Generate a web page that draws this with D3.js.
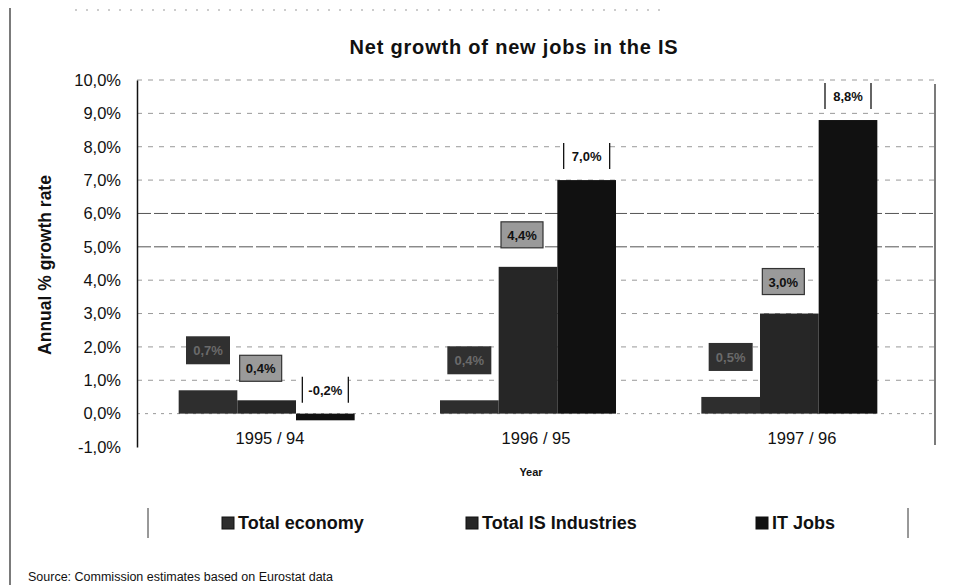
<!DOCTYPE html>
<html>
<head>
<meta charset="utf-8">
<script src="https://cdn.jsdelivr.net/npm/d3@7"></script>
<style>
  html, body { margin: 0; padding: 0; background: #fff; }
  svg { display: block; font-family: "Liberation Sans", Arial, sans-serif; }
</style>
</head>
<body>
<svg id="chart" width="978" height="585"></svg>
<script>
// ---- data ----
const categories = ["1995 / 94", "1996 / 95", "1997 / 96"];
const seriesNames = ["Total economy", "Total IS Industries", "IT Jobs"];
const totalEconomy = [0.7, 0.4, 0.5];
const totalIS = [0.4, 4.4, 3.0];
const itJobs = [-0.2, 7.0, 8.8];
const yTicks = [-1, 0, 1, 2, 3, 4, 5, 6, 7, 8, 9, 10];
const title = "Net growth of new jobs in the IS";
const yTitle = "Annual % growth rate";
const xTitle = "Year";
const source = "Source:  Commission estimates based on Eurostat data";

const seriesValues = [totalEconomy, totalIS, itJobs];
const colors = ["#2e2e2e", "#262626", "#111111"];

const loc = d3.formatLocale({decimal: ",", thousands: ".", grouping: [3], currency: ["", "€"], minus: "-"});
const pct = loc.format(".1f");
const fmt = v => pct(v) + "%";

const svg = d3.select("#chart");

// frame bits
svg.append("line").attr("x1", 10).attr("x2", 10).attr("y1", 8).attr("y2", 585)
  .attr("stroke", "#333").attr("stroke-width", 1.3);
svg.append("line").attr("x1", 75).attr("x2", 660).attr("y1", 10).attr("y2", 10)
  .attr("stroke", "#999").attr("stroke-dasharray", "2,9");

// scales
const plotLeft = 137, plotRight = 935;
const x0 = d3.scaleBand().domain(categories).range([136, 920]);      // bar groups
const xCat = d3.scaleBand().domain(categories).range([plotLeft, plotRight]); // category labels
const x1 = d3.scaleBand().domain(seriesNames).range([-88, 88]);
const y = d3.scaleLinear().domain([-1, 10]).range([447, 80]);

// title
svg.append("text").attr("x", 514).attr("y", 54).attr("text-anchor", "middle")
  .attr("font-size", 20).attr("font-weight", "bold").attr("letter-spacing", 0.8)
  .attr("fill", "#111").text(title);

// gridlines
svg.append("g").selectAll("line").data(yTicks.filter(t => t > -1))
  .join("line")
  .attr("x1", plotLeft).attr("x2", plotRight)
  .attr("y1", d => y(d)).attr("y2", d => y(d))
  .attr("stroke", d => (d === 5 || d === 6) ? "#555" : "#999")
  .attr("stroke-width", 1)
  .attr("stroke-dasharray", d => (d === 5 || d === 6) ? "14,3" : (d === 0 ? "3,5" : "5,6"));

// right frame line
svg.append("line").attr("x1", plotRight).attr("x2", plotRight).attr("y1", 84).attr("y2", 445)
  .attr("stroke", "#222").attr("stroke-width", 1.2);

// y axis
const yAxis = svg.append("g").attr("transform", `translate(${plotLeft},0)`)
  .call(d3.axisLeft(y).tickValues(yTicks).tickSize(0).tickSizeOuter(0).tickPadding(16).tickFormat(fmt));
yAxis.select(".domain").attr("stroke", "#111").attr("stroke-width", 1.5);
yAxis.selectAll("text").attr("font-size", 16.5).attr("fill", "#111")
  .attr("font-family", "Liberation Sans, Arial, sans-serif");

// y title
svg.append("text").attr("transform", "translate(51,265) rotate(-90)")
  .attr("text-anchor", "middle").attr("font-size", 17.5).attr("font-weight", "bold")
  .attr("fill", "#111").text(yTitle);

// bars
const groups = svg.append("g").selectAll("g").data(categories).join("g")
  .attr("transform", d => `translate(${x0(d) + x0.bandwidth() / 2},0)`);

seriesNames.forEach((s, si) => {
  groups.append("rect")
    .attr("x", x1(s))
    .attr("width", x1.bandwidth())
    .attr("y", (d, i) => y(Math.max(0, seriesValues[si][i])))
    .attr("height", (d, i) => Math.abs(y(seriesValues[si][i]) - y(0)))
    .attr("fill", colors[si]);
});

// data labels
// Total economy: dark boxes
groups.each(function(d, i) {
  const g = d3.select(this);
  const cx = x1(seriesNames[0]) + x1.bandwidth() / 2;
  const cy = y(totalEconomy[i]) - 40;
  g.append("rect").attr("x", cx - 22).attr("y", cy - 14).attr("width", 44).attr("height", 28)
    .attr("fill", "#303030");
  g.append("text").attr("x", cx).attr("y", cy + 5).attr("text-anchor", "middle")
    .attr("font-size", 13).attr("font-weight", "bold").attr("fill", "#6a6a6a").text(fmt(totalEconomy[i]));
});
// Total IS: grey boxes
groups.each(function(d, i) {
  const g = d3.select(this);
  const cx = x1(seriesNames[1]) + x1.bandwidth() / 2 - 6;
  const cy = y(totalIS[i]) - 32;
  g.append("rect").attr("x", cx - 21).attr("y", cy - 13).attr("width", 42).attr("height", 26)
    .attr("fill", "#9a9a9a").attr("stroke", "#333").attr("stroke-width", 1.2);
  g.append("text").attr("x", cx).attr("y", cy + 5).attr("text-anchor", "middle")
    .attr("font-size", 13).attr("font-weight", "bold").attr("fill", "#111").text(fmt(totalIS[i]));
});
// IT Jobs: bracketed labels
groups.each(function(d, i) {
  const g = d3.select(this);
  const cx = x1(seriesNames[2]) + x1.bandwidth() / 2;
  const cy = y(Math.max(0, itJobs[i])) - 24;
  g.append("rect").attr("x", cx - 23).attr("y", cy - 13).attr("width", 46).attr("height", 26)
    .attr("fill", "#fff");
  [-23, 23].forEach(dx => g.append("line").attr("x1", cx + dx).attr("x2", cx + dx)
    .attr("y1", cy - 13).attr("y2", cy + 13).attr("stroke", "#111").attr("stroke-width", 1.3));
  g.append("text").attr("x", cx).attr("y", cy + 5).attr("text-anchor", "middle")
    .attr("font-size", 13).attr("font-weight", "bold").attr("fill", "#111").text(fmt(itJobs[i]));
});

// category axis
const xAxis = svg.append("g").attr("transform", `translate(0,${y(0)})`)
  .call(d3.axisBottom(xCat).tickSize(0).tickPadding(19));
xAxis.select(".domain").remove();
xAxis.selectAll("text").attr("font-size", 16.5).attr("fill", "#111")
  .attr("font-family", "Liberation Sans, Arial, sans-serif");

// x title
svg.append("text").attr("x", 531).attr("y", 476).attr("text-anchor", "middle")
  .attr("font-size", 11).attr("font-weight", "bold").attr("fill", "#111").text(xTitle);

// legend
const legendX = [222, 466, 756];
svg.append("line").attr("x1", 148).attr("x2", 148).attr("y1", 508).attr("y2", 538).attr("stroke", "#333");
svg.append("line").attr("x1", 908).attr("x2", 908).attr("y1", 508).attr("y2", 538).attr("stroke", "#333");
const leg = svg.append("g").selectAll("g").data(seriesNames).join("g")
  .attr("transform", (d, i) => `translate(${legendX[i]},522)`);
leg.append("rect").attr("x", 0).attr("y", -5).attr("width", 12).attr("height", 12)
  .attr("fill", (d, i) => colors[i]).attr("stroke", "#111");
leg.append("text").attr("x", 16).attr("y", 7).attr("font-size", 18).attr("font-weight", "bold")
  .attr("fill", "#111").text(d => d);

// source
svg.append("text").attr("x", 28).attr("y", 581).attr("font-size", 12.5).attr("fill", "#111").text(source);
</script>
</body>
</html>
